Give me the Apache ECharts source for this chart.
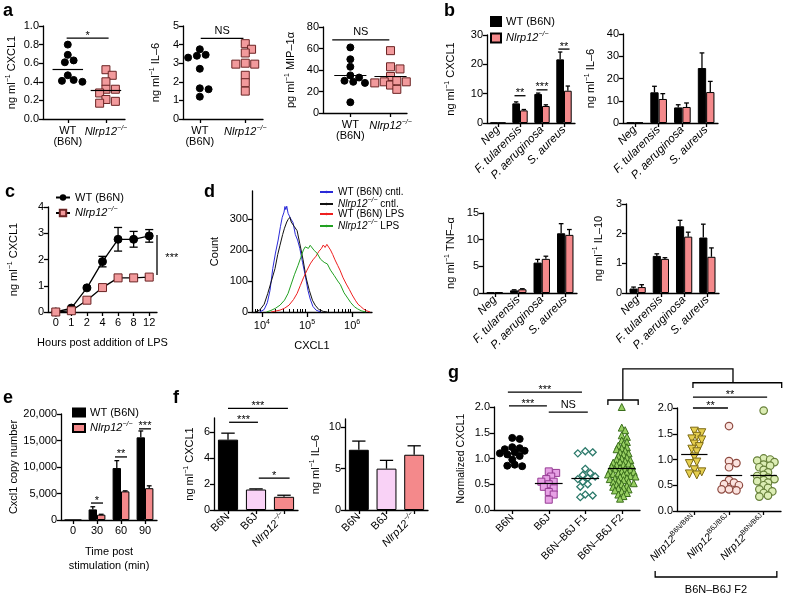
<!DOCTYPE html>
<html><head><meta charset="utf-8">
<script src="https://cdn.jsdelivr.net/npm/echarts@6.0.0/dist/echarts.min.js"></script>
<style>html,body{margin:0;padding:0;background:#fff}#chart{width:788px;height:596px}</style>
</head><body><div id="chart"></div>
<script>
/* ================= DATA ================= */
// Panel a (dot plots)
const aCXCL1_WT = [0.80, 0.69, 0.63, 0.61, 0.47, 0.41, 0.40, 0.42];
const aCXCL1_KO = [0.53, 0.47, 0.40, 0.32, 0.32, 0.28, 0.21, 0.19, 0.17];
const aCXCL1_lines = [0.53, 0.31];
const aIL6_WT = [3.75, 3.45, 3.30, 3.40, 2.70, 1.65, 1.60, 1.20];
const aIL6_KO = [4.05, 3.75, 3.55, 3.00, 2.95, 2.90, 2.95, 2.35, 1.95, 1.50];
const aIL6_lines = [2.58, 2.80];
const aMIP_WT = [61, 50, 43, 35, 33, 29, 30, 28, 10];
const aMIP_KO = [58, 43, 41, 34, 29, 28, 29, 26, 22, 30];
const aMIP_lines = [35, 34];

// Panel b (bars, WT vs KO)
const bCats = ['Neg', 'F. tularensis', 'P. aeruginosa', 'S. aureus'];
const bCXCL1_WT = [0.1, 6.7, 9.9, 21.7], bCXCL1_WTerr = [0, 0.5, 0.3, 2.5];
const bCXCL1_KO = [0.1, 4.3, 5.8, 11.0], bCXCL1_KOerr = [0, 0.3, 0.4, 1.6];
const bIL6_WT = [0.2, 13.8, 7.0, 24.7], bIL6_WTerr = [0, 2.7, 1.2, 6.8];
const bIL6_KO = [0.2, 10.8, 7.2, 13.9], bIL6_KOerr = [0, 2.4, 1.8, 4.8];
const bTNF_WT = [0.1, 0.5, 5.7, 11.2], bTNF_WTerr = [0, 0.1, 0.6, 1.8];
const bTNF_KO = [0.15, 0.7, 6.4, 10.9], bTNF_KOerr = [0, 0.1, 0.5, 1.0];
const bIL10_WT = [0.15, 1.25, 2.25, 1.87], bIL10_WTerr = [0.05, 0.07, 0.2, 0.45];
const bIL10_KO = [0.2, 1.15, 1.9, 1.22], bIL10_KOerr = [0.08, 0.04, 0.15, 0.3];

// Panel c (time course)
const cHours = ['0', '1', '2', '4', '6', '8', '12'];
const cWT = [0, 0.15, 0.92, 1.92, 2.77, 2.77, 2.90];
const cWTerr = [0, 0.03, 0.05, 0.20, 0.45, 0.30, 0.24];
const cKO = [0, 0.05, 0.45, 0.93, 1.30, 1.30, 1.33];
const cKOerr = [0, 0, 0.03, 0.05, 0.05, 0.04, 0.05];

// Panel d (flow histograms: [log10 CXCL1, count])
const dWTcntl = [[3.95,0],[4.05,8],[4.12,30],[4.18,70],[4.24,140],[4.3,190],[4.36,232],[4.41,275],[4.45,305],[4.49,322],[4.51,340],[4.53,330],[4.55,341],[4.58,318],[4.61,312],[4.64,300],[4.69,288],[4.74,250],[4.79,232],[4.84,205],[4.9,160],[4.96,118],[5.02,70],[5.07,42],[5.13,18],[5.2,6],[5.3,0]];
const dKOcntl = [[3.85,0],[3.95,6],[4.05,25],[4.13,60],[4.21,100],[4.29,140],[4.35,185],[4.4,215],[4.46,250],[4.5,270],[4.55,290],[4.58,298],[4.62,305],[4.65,290],[4.68,296],[4.72,275],[4.78,262],[4.84,220],[4.91,170],[4.98,110],[5.05,70],[5.12,38],[5.18,22],[5.26,8],[5.36,2],[5.45,0]];
const dWTlps = [[4.2,0],[4.3,3],[4.4,6],[4.5,12],[4.6,22],[4.7,40],[4.78,60],[4.85,85],[4.92,110],[5.0,135],[5.07,155],[5.13,168],[5.2,180],[5.26,195],[5.32,205],[5.36,216],[5.4,208],[5.44,218],[5.48,212],[5.52,200],[5.57,185],[5.62,168],[5.68,150],[5.73,135],[5.8,110],[5.87,90],[5.94,72],[6.0,55],[6.07,38],[6.13,25],[6.18,19],[6.25,10],[6.32,4],[6.4,0]];
const dKOlps = [[4.1,0],[4.2,5],[4.3,12],[4.4,22],[4.5,38],[4.58,60],[4.65,90],[4.72,120],[4.8,150],[4.86,175],[4.92,200],[4.96,210],[5.0,216],[5.03,205],[5.07,215],[5.11,212],[5.16,198],[5.22,190],[5.3,170],[5.38,160],[5.45,155],[5.52,135],[5.6,118],[5.68,100],[5.74,88],[5.82,62],[5.9,45],[5.97,30],[6.05,17],[6.12,10],[6.2,4],[6.3,0]];

// Panel e
const eTimes = ['0', '30', '60', '90'];
const eWT = [0, 2000, 9800, 15600], eWTerr = [0, 500, 1400, 1200];
const eKO = [0, 1000, 5400, 6000], eKOerr = [0, 80, 100, 450];

// Panel f
const fCats = ['B6N', 'B6J', 'Nlrp12'];
const fCXCL1 = [5.43, 1.58, 1.02], fCXCL1err = [0.5, 0.05, 0.12];
const fIL6 = [7.28, 5.0, 6.68], fIL6err = [1.05, 1.0, 1.08];

// Panel g
const gCats1 = ['B6N', 'B6J', 'B6N–B6J F1', 'B6N–B6J F2'];
const gB6N = [1.40, 1.38, 1.22, 1.18, 1.20, 1.15, 1.12, 1.10, 1.08, 1.05, 0.98, 0.88, 0.85, 0.86];
const gB6J = [0.75, 0.72, 0.65, 0.60, 0.55, 0.55, 0.50, 0.45, 0.42, 0.35, 0.30, 0.20];
const gF1 = [1.12, 1.10, 1.14, 0.80, 0.72, 0.68, 0.65, 0.62, 0.60, 0.55, 0.50, 0.45, 0.30, 0.28, 0.25];
const gF2 = [2.0,1.6,1.55,1.45,1.42,1.35,1.32,1.28,1.25,1.22,1.2,1.18,1.15,1.12,1.1,1.08,1.05,1.02,1.0,0.98,0.97,0.95,0.93,0.92,0.9,0.88,0.87,0.85,0.84,0.82,0.8,0.79,0.78,0.76,0.75,0.74,0.72,0.71,0.7,0.69,0.68,0.66,0.65,0.64,0.62,0.61,0.6,0.58,0.57,0.55,0.54,0.52,0.5,0.49,0.47,0.45,0.43,0.42,0.4,0.38,0.36,0.33,0.3,0.27,0.22];
const g1Lines = [1.10, 0.52, 0.62, 0.82];
const gCats2 = ['B6N/B6N', 'B6J/B6J', 'B6N/B6J'];
const gNN = [1.55, 1.52, 1.45, 1.40, 1.38, 1.30, 1.25, 1.20, 1.15, 1.05, 0.95, 0.92, 0.80, 0.76, 0.72, 0.70];
const gJJ = [1.65, 0.97, 0.93, 0.85, 0.60, 0.55, 0.52, 0.50, 0.42, 0.42, 0.40];
const gNJ = [1.95, 1.02, 1.0, 0.98, 0.95, 0.9, 0.88, 0.85, 0.8, 0.75, 0.7, 0.68, 0.65, 0.62, 0.6, 0.58, 0.55, 0.5, 0.45, 0.42, 0.38, 0.35, 0.3, 0.28];
const g2Lines = [1.10, 0.70, 0.70];

/* ================= STYLE / HELPERS ================= */
const FF = '"Liberation Sans", Arial, Helvetica, sans-serif';
const PINK = '#f4898b', PINKB = '#f29a9c';
function rich(fs) {
  const s = Math.round(fs * 0.68);
  return {
    it: { fontStyle: 'italic', fontSize: fs, fontFamily: FF, color: '#000' },
    sup: { fontSize: s, fontFamily: FF, color: '#000', padding: [0, 0, 7, 0] },
    supi: { fontSize: s, fontStyle: 'italic', fontFamily: FF, color: '#000', padding: [0, 0, 7, 0] }
  };
}
const KO = '{it|Nlrp12}{supi|−/−}';
const grids = [], xAx = [], yAx = [], ser = [];
function G(l, t, w, h) { grids.push({ left: l, top: t, width: w, height: h, containLabel: false, outerBoundsMode: 'none' }); return grids.length - 1; }
const LS = { color: '#000', width: 1.3 };
function axLine() { return { show: true, onZero: false, lineStyle: { ...LS } }; }
function Y(gi, max, o) {
  const a = { type: 'value', gridIndex: gi, min: 0, max, axisLine: axLine(),
    axisTick: { show: true, length: 4, lineStyle: { ...LS } },
    axisLabel: { color: '#000', fontSize: 11, fontFamily: FF, margin: 4, formatter: o.fmt },
    splitLine: { show: false } };
  if (o.interval) a.interval = o.interval;
  if (o.ticks) { a.axisLabel.customValues = o.ticks; a.axisTick.customValues = o.ticks; }
  if (o.name) {
    a.name = o.name; a.nameLocation = 'middle'; a.nameGap = o.gap; a.nameRotate = 90;
    a.nameTextStyle = { color: '#000', fontSize: o.nfs || 11, fontFamily: FF, rich: rich(o.nfs || 11) };
  }
  yAx.push(a); return yAx.length - 1;
}
function XC(gi, cats, o) {
  const fs = o.fs || 11;
  const a = { type: 'category', gridIndex: gi, data: cats, axisLine: axLine(),
    axisTick: { show: true, alignWithLabel: true, length: 4, lineStyle: { ...LS } },
    axisLabel: { interval: 0, rotate: o.rotate || 0, color: '#000', fontSize: fs, fontFamily: FF, margin: o.margin || 5,
      fontStyle: o.italic ? 'italic' : 'normal', formatter: o.fmt, rich: rich(fs) },
    splitLine: { show: false } };
  if (o.name) { a.name = o.name; a.nameLocation = 'middle'; a.nameGap = o.gap;
    a.nameTextStyle = { color: '#000', fontSize: 11, fontFamily: FF, lineHeight: 14 }; }
  xAx.push(a); return xAx.length - 1;
}
function XH(gi, n) { xAx.push({ type: 'value', gridIndex: gi, min: -0.5, max: n - 0.5, show: false }); return xAx.length - 1; }
function XV(gi, min, max, o) {
  const fs = o.fs || 11;
  xAx.push({ type: 'value', gridIndex: gi, min, max, axisLine: axLine(),
    axisTick: { show: true, length: 4, lineStyle: { ...LS }, customValues: o.ticks },
    axisLabel: { customValues: o.ticks, color: '#000', fontSize: fs, fontFamily: FF, margin: o.margin || 5,
      rotate: o.rotate || 0, lineHeight: o.lh || undefined, formatter: o.fmt, rich: rich(fs) },
    splitLine: { show: false } });
  return xAx.length - 1;
}
function swarm(vals, center, pxX, pxY, d) {
  const order = vals.map((v, i) => i).sort((a, b) => vals[b] - vals[a]);
  const placed = [], out = [];
  order.forEach(i => {
    const y = vals[i] * pxY;
    let off = 0;
    for (let k = 0; k < 300; k++) {
      const o = k === 0 ? 0 : (k % 2 ? 1 : -1) * Math.ceil(k / 2) * d * 0.45;
      if (placed.every(p => Math.hypot(p[0] - o, p[1] - y) >= d)) { off = o; break; }
    }
    placed.push([off, y]);
    out[i] = [center + off / pxX, vals[i]];
  });
  return out;
}
function dots(xi, yi, vals, center, pxX, pxY, sty, line, lw) {
  ser.push({ type: 'scatter', xAxisIndex: xi, yAxisIndex: yi, z: 3,
    data: swarm(vals, center, pxX, pxY, sty.sep || sty.size),
    symbol: sty.symbol, symbolSize: sty.size, symbolRotate: sty.rot || 0,
    itemStyle: { color: sty.fill, borderColor: sty.border, borderWidth: sty.bw || 1, opacity: 1 },
    markLine: { silent: true, symbol: 'none', label: { show: false }, animation: false,
      lineStyle: { color: '#000', width: 1.2, type: 'solid' },
      data: [[{ coord: [center - lw, line] }, { coord: [center + lw, line] }]] } });
}
function errS(xi, yi, vals, errs, off, cap, both) {
  ser.push({ type: 'custom', xAxisIndex: xi, yAxisIndex: yi, silent: true, z: both ? 1 : 5,
    data: vals.map((v, i) => [i, v, errs[i]]), encode: { x: 0, y: 1 },
    renderItem: (p, api) => {
      const i = api.value(0), v = api.value(1), e = api.value(2);
      if (!e) return null;
      const band = api.size([1, 0])[0];
      const c0 = api.coord([i, v]);
      const top = api.coord([i, v + e])[1];
      const bot = both ? api.coord([i, v - e])[1] : c0[1];
      const x = c0[0] + off * band, hw = cap * band;
      const st = { stroke: '#000', lineWidth: 1.3 };
      const ch = [{ type: 'line', shape: { x1: x, y1: bot, x2: x, y2: top }, style: st },
                  { type: 'line', shape: { x1: x - hw, y1: top, x2: x + hw, y2: top }, style: st }];
      if (both) ch.push({ type: 'line', shape: { x1: x - hw, y1: bot, x2: x + hw, y2: bot }, style: st });
      return { type: 'group', children: ch };
    } });
}
function ANN(xi, yi, items) {
  ser.push({ type: 'custom', xAxisIndex: xi, yAxisIndex: yi, silent: true, z: 10, clip: false,
    data: items.map(d => [d.x1, d.x2, d.y, d.y2 != null ? d.y2 : d.y]), encode: { x: [0, 1], y: [2, 3] },
    renderItem: (p, api) => {
      const d = items[p.dataIndex];
      const a = api.coord([api.value(0), api.value(2)]), b = api.coord([api.value(1), api.value(3)]);
      const ch = [{ type: 'line', shape: { x1: a[0], y1: a[1], x2: b[0], y2: b[1] }, style: { stroke: '#000', lineWidth: 1.3 } }];
      if (d.t) {
        let tx, ty, va = 'bottom';
        if (d.tx != null) { const q = api.coord([d.tx, d.ty]); tx = q[0]; ty = q[1]; va = 'middle'; }
        else { tx = (a[0] + b[0]) / 2; ty = d.t === 'NS' ? a[1] - 2 : a[1] + 3; }
        ch.push({ type: 'text', x: tx, y: ty, style: { text: d.t, fontSize: d.fs || 11, fontFamily: FF, fill: '#000', align: 'center', verticalAlign: va } });
      }
      return { type: 'group', children: ch };
    } });
}
function bars(xi, yi, name, vals, color, gap) {
  ser.push({ type: 'bar', name, xAxisIndex: xi, yAxisIndex: yi, data: vals, barGap: '0%', barCategoryGap: gap,
    itemStyle: { color, borderColor: '#000', borderWidth: 1 }, z: 2 });
}
const dec1 = v => v.toFixed(1);
const comma = v => v === 0 ? '0' : (v / 1000) + ',000';
const aFmt = v => Math.round(v) === 0 ? 'WT\n(B6N)' : KO;

/* ================= PANEL a ================= */
{
  let g = G(43, 26, 82, 93), x = XV(g, -0.65, 1.5, { ticks: [0, 1], fmt: aFmt, margin: 6 });
  let y = Y(g, 1.0, { interval: 0.2, fmt: dec1, name: 'ng ml{sup|−1} CXCL1', gap: 24 });
  let px = 82 / 2.15, py = 93 / 1.0;
  dots(x, y, aCXCL1_WT, 0, px, py, { symbol: 'circle', size: 7, sep: 6.5, fill: '#000', border: '#000' }, aCXCL1_lines[0], 0.4);
  dots(x, y, aCXCL1_KO, 1, px, py, { symbol: 'rect', size: 8, sep: 7, fill: PINKB, border: '#6b2424' }, aCXCL1_lines[1], 0.4);
  ANN(x, y, [{ x1: -0.03, x2: 1.07, y: 0.87, t: '*' }]);

  g = G(183, 26, 80, 93); x = XV(g, -0.37, 1.39, { ticks: [0, 1], fmt: aFmt, margin: 6 });
  y = Y(g, 5, { interval: 1, name: 'ng ml{sup|−1} IL–6', gap: 20 });
  px = 80 / 1.76; py = 93 / 5;
  dots(x, y, aIL6_WT, 0, px, py, { symbol: 'circle', size: 7, sep: 6.5, fill: '#000', border: '#000' }, aIL6_lines[0], 0.4);
  dots(x, y, aIL6_KO, 1, px, py, { symbol: 'rect', size: 8, sep: 7, fill: PINKB, border: '#6b2424' }, aIL6_lines[1], 0.4);
  ANN(x, y, [{ x1: 0.02, x2: 0.96, y: 4.34, t: 'NS' }]);

  g = G(323, 27, 84, 86); x = XV(g, -0.68, 1.41, { ticks: [0, 1], fmt: aFmt, margin: 6 });
  y = Y(g, 80, { interval: 20, name: 'pg ml{sup|−1} MIP–1α', gap: 25 });
  px = 84 / 2.09; py = 86 / 80;
  dots(x, y, aMIP_WT, 0, px, py, { symbol: 'circle', size: 7, sep: 6.5, fill: '#000', border: '#000' }, aMIP_lines[0], 0.4);
  dots(x, y, aMIP_KO, 1, px, py, { symbol: 'rect', size: 8, sep: 7, fill: PINKB, border: '#6b2424' }, aMIP_lines[1], 0.4);
  ANN(x, y, [{ x1: -0.45, x2: 0.97, y: 68, t: 'NS' }]);
}

/* ================= PANEL b ================= */
function bPanel(l, t, w, h, max, interval, name, gap, wt, wte, ko, koe, ann) {
  const g = G(l, t, w, h);
  const x = XC(g, bCats, { rotate: 45, fs: 11.5, italic: true, margin: 5 });
  const xh = XH(g, 4);
  const y = Y(g, max, { interval, name, gap });
  bars(x, y, 'bWT', wt, '#000', '30%');
  bars(x, y, 'bKO', ko, PINK, '30%');
  errS(x, y, wt, wte, -0.175, 0.1, false);
  errS(x, y, ko, koe, 0.175, 0.1, false);
  if (ann) ANN(xh, y, ann);
}
bPanel(487, 35, 88, 88, 30, 10, 'ng ml{sup|−1} CXCL1', 29, bCXCL1_WT, bCXCL1_WTerr, bCXCL1_KO, bCXCL1_KOerr,
  [{ x1: 0.75, x2: 1.25, y: 9.3, t: '**' }, { x1: 1.75, x2: 2.25, y: 11.3, t: '***' }, { x1: 2.75, x2: 3.25, y: 25.2, t: '**' }]);
bPanel(623, 34, 95, 89, 40, 10, 'ng ml{sup|−1} IL–6', 25, bIL6_WT, bIL6_WTerr, bIL6_KO, bIL6_KOerr, null);
bPanel(483, 213, 94, 80, 15, 5, 'ng ml{sup|−1} TNF–α', 25, bTNF_WT, bTNF_WTerr, bTNF_KO, bTNF_KOerr, null);
bPanel(626, 204, 93, 89, 3, 1, 'ng ml{sup|−1} IL–10', 20, bIL10_WT, bIL10_WTerr, bIL10_KO, bIL10_KOerr, null);

/* ================= PANEL c ================= */
{
  const g = G(48, 207, 109, 105);
  const x = XC(g, cHours, { fs: 11, name: 'Hours post addition of LPS', gap: 24 });
  const xh = XH(g, 7);
  const y = Y(g, 4, { interval: 1, name: 'ng ml{sup|−1} CXCL1', gap: 27 });
  ser.push({ type: 'line', name: 'cWT', xAxisIndex: x, yAxisIndex: y, data: cWT, symbol: 'circle', symbolSize: 8, z: 3,
    lineStyle: { color: '#000', width: 1.3 }, itemStyle: { color: '#000', borderColor: '#000' } });
  ser.push({ type: 'line', name: 'cKO', xAxisIndex: x, yAxisIndex: y, data: cKO, symbol: 'rect', symbolSize: 8, z: 3,
    lineStyle: { color: '#000', width: 1.3 }, itemStyle: { color: PINKB, borderColor: '#6b2424', borderWidth: 1 } });
  errS(x, y, cWT, cWTerr, 0, 0.26, true);
  errS(x, y, cKO, cKOerr, 0, 0.26, true);
  ANN(xh, y, [{ x1: 6.5, x2: 6.5, y: 2.93, y2: 1.41, t: '***', tx: 7.45, ty: 2.05 }]);
}

/* ================= PANEL d ================= */
{
  const g = G(252, 191, 120, 121);
  const xmin = 3.78, xmax = 6.44;
  xAx.push({ type: 'value', gridIndex: g, min: xmin, max: xmax, axisLine: axLine(),
    axisTick: { show: true, length: 5, lineStyle: { ...LS }, customValues: [4, 5, 6] },
    axisLabel: { customValues: [4, 5, 6], color: '#000', fontSize: 11, fontFamily: FF, margin: 7,
      formatter: v => '10{sup|' + Math.round(v) + '}', rich: rich(11) },
    splitLine: { show: false }, name: 'CXCL1', nameLocation: 'middle', nameGap: 28,
    nameTextStyle: { color: '#000', fontSize: 11, fontFamily: FF } });
  const xd = xAx.length - 1;
  const minors = [];
  for (let n = 3; n <= 6; n++) for (let k = 2; k <= 9; k++) { const v = n + Math.log10(k); if (v > xmin && v < xmax) minors.push(v); }
  xAx.push({ type: 'value', gridIndex: g, min: xmin, max: xmax, axisLine: { show: false },
    axisTick: { show: true, length: 3, lineStyle: { color: '#000', width: 1 }, customValues: minors },
    axisLabel: { show: false }, splitLine: { show: false } });
  const y = Y(g, 390, { ticks: [0, 100, 200, 300], name: 'Count', gap: 32 });
  const cur = [['d1', dWTcntl, '#2a2ad8'], ['d2', dKOcntl, '#111111'], ['d3', dWTlps, '#ee2020'], ['d4', dKOlps, '#22a022']];
  cur.forEach(([n, d, c]) => ser.push({ type: 'line', name: n, xAxisIndex: xd, yAxisIndex: y, data: d, symbol: 'none',
    showSymbol: false, lineStyle: { color: c, width: 1 }, itemStyle: { color: c }, z: 2 }));
}

/* ================= PANEL e ================= */
{
  const g = G(61, 414, 96, 106);
  const x = XC(g, eTimes, { fs: 11, name: 'Time post\nstimulation (min)', gap: 25 });
  const xh = XH(g, 4);
  const y = Y(g, 20000, { interval: 5000, fmt: comma, name: 'Cxcl1 copy number', gap: 42 });
  bars(x, y, 'eWT', eWT, '#000', '30%');
  bars(x, y, 'eKO', eKO, PINK, '30%');
  errS(x, y, eWT, eWTerr, -0.175, 0.1, false);
  errS(x, y, eKO, eKOerr, 0.175, 0.1, false);
  ANN(xh, y, [{ x1: 0.75, x2: 1.25, y: 3200, t: '*' }, { x1: 1.75, x2: 2.25, y: 11900, t: '**' }, { x1: 2.75, x2: 3.25, y: 17200, t: '***' }]);
}

/* ================= PANEL f ================= */
{
  const fFmt = v => v === 'Nlrp12' ? KO : v;
  const fColors = ['#000', '#f9d2f6', PINK];
  let g = G(214, 418, 84, 92);
  let x = XC(g, fCats, { rotate: 45, fs: 11, fmt: fFmt });
  let xh = XH(g, 3);
  let y = Y(g, 7.1, { ticks: [0, 2, 4, 6], name: 'ng ml{sup|−1} CXCL1', gap: 17 });
  ser.push({ type: 'bar', name: 'f1', xAxisIndex: x, yAxisIndex: y, barCategoryGap: '28%',
    data: fCXCL1.map((v, i) => ({ value: v, itemStyle: { color: fColors[i], borderColor: '#000', borderWidth: 1 } })) });
  errS(x, y, fCXCL1, fCXCL1err, 0, 0.24, false);
  ANN(xh, y, [{ x1: 0, x2: 2.14, y: 7.85, t: '***' }, { x1: 0.04, x2: 1.07, y: 6.77, t: '***' }, { x1: 1.1, x2: 2.2, y: 2.46, t: '*' }]);

  g = G(345, 419, 83, 91);
  x = XC(g, fCats, { rotate: 45, fs: 11, fmt: fFmt });
  y = Y(g, 11, { ticks: [0, 5, 10], name: 'ng ml{sup|−1} IL–6', gap: 22 });
  ser.push({ type: 'bar', name: 'f2', xAxisIndex: x, yAxisIndex: y, barCategoryGap: '28%',
    data: fIL6.map((v, i) => ({ value: v, itemStyle: { color: fColors[i], borderColor: '#000', borderWidth: 1 } })) });
  errS(x, y, fIL6, fIL6err, 0, 0.24, false);
}

/* ================= PANEL g ================= */
let G1X, G1Y, G2X, G2Y;
{
  let g = G(494, 407, 146, 103);
  let x = XV(g, -0.5, 3.5, { ticks: [0, 1, 2, 3], fs: 10.5, rotate: 45, margin: 6, fmt: v => gCats1[Math.round(v)] });
  let y = Y(g, 2, { interval: 0.5, fmt: dec1, name: 'Normalized CXCL1', gap: 27, nfs: 10.5 });
  G1X = x; G1Y = y;
  let px = 146 / 4, py = 103 / 2;
  dots(x, y, gB6N, 0, px, py, { symbol: 'circle', size: 7, sep: 5.5, fill: '#000', border: '#000' }, g1Lines[0], 0.38);
  dots(x, y, gB6J, 1, px, py, { symbol: 'rect', size: 7, sep: 5.5, fill: '#e7a1e5', border: '#963c94' }, g1Lines[1], 0.38);
  dots(x, y, gF1, 2, px, py, { symbol: 'diamond', size: 7, sep: 5.5, fill: '#ffffff', border: '#2c7a6b', bw: 1.3 }, g1Lines[2], 0.38);
  dots(x, y, gF2, 3, px, py, { symbol: 'triangle', size: 7, sep: 3.8, fill: '#97cf62', border: '#3a6e1c' }, g1Lines[3], 0.38);
  ANN(x, y, [{ x1: -0.12, x2: 1.91, y: 2.29, t: '***' }, { x1: -0.09, x2: 0.95, y: 2.02, t: '***' }, { x1: 1.0, x2: 2.07, y: 1.9, t: 'NS' }]);

  g = G(677, 408, 104, 103);
  x = XV(g, -0.5, 2.5, { ticks: [0, 1, 2], fs: 10.5, rotate: 45, margin: 6,
    fmt: v => '{it|Nlrp12}{sup|' + gCats2[Math.round(v)] + '}' });
  y = Y(g, 2, { interval: 0.5, fmt: dec1 });
  G2X = x; G2Y = y;
  px = 104 / 3;
  dots(x, y, gNN, 0, px, py, { symbol: 'triangle', rot: 180, size: 8, sep: 5.5, fill: '#e6cf4f', border: '#7d6a14' }, g2Lines[0], 0.38);
  dots(x, y, gJJ, 1, px, py, { symbol: 'circle', size: 7.5, sep: 5.5, fill: '#fbe3df', border: '#8e4a40', bw: 1.2 }, g2Lines[1], 0.38);
  dots(x, y, gNJ, 2, px, py, { symbol: 'circle', size: 7.5, sep: 4.8, fill: '#dcedb4', border: '#67803a', bw: 1.2 }, g2Lines[2], 0.38);
  ANN(x, y, [{ x1: -0.04, x2: 2.1, y: 2.21, t: '**' }, { x1: -0.04, x2: 0.97, y: 2.0, t: '**' }]);
}

/* ================= LEGENDS ================= */
const LN = { bWT: 'WT (B6N)', bKO: KO, eWT: 'WT (B6N)', eKO: KO, cWT: 'WT (B6N)', cKO: KO,
  d1: 'WT (B6N) cntl.', d2: KO + ' cntl.', d3: 'WT (B6N) LPS', d4: KO + ' LPS' };
function leg(o, names, fs, extra) {
  return Object.assign({ orient: 'vertical', padding: 0, selectedMode: false, data: names, formatter: n => LN[n],
    textStyle: { color: '#000', fontSize: fs, fontFamily: FF, rich: rich(fs) } }, o, extra || {});
}
const legends = [
  leg({ left: 490, top: 16, itemWidth: 10, itemHeight: 9, itemGap: 4, icon: 'rect' }, ['bWT', 'bKO'], 11),
  leg({ left: 72, top: 407, itemWidth: 12, itemHeight: 8, itemGap: 3, icon: 'rect' }, ['eWT', 'eKO'], 11),
  leg({ left: 55, top: 192, itemWidth: 14, itemHeight: 8, itemGap: 3 }, ['cWT', 'cKO'], 11),
  leg({ left: 319, top: 187, itemWidth: 13, itemHeight: 3, itemGap: 0 }, ['d1', 'd2', 'd3', 'd4'], 10)
];

/* ================= RENDER ================= */
const chart = echarts.init(document.getElementById('chart'), null, { renderer: 'canvas', width: 788, height: 596 });
const letter = (t, l, tp) => ({ type: 'text', left: l, top: tp, style: { text: t, fontSize: 18, fontWeight: 'bold', fontFamily: FF, fill: '#000' } });
chart.setOption({
  animation: false,
  textStyle: { fontFamily: FF },
  grid: grids, xAxis: xAx, yAxis: yAx, series: ser, legend: legends
});
// brackets in panel g, placed via the axes' own coordinate conversion
const P1 = (x, y) => chart.convertToPixel({ xAxisIndex: G1X, yAxisIndex: G1Y }, [x, y]);
const P2 = (x, y) => chart.convertToPixel({ xAxisIndex: G2X, yAxisIndex: G2Y }, [x, y]);
const a1 = P1(2.62, 2.04), a2 = P1(2.62, 2.136), a3 = P1(3.45, 2.136), a4 = P1(3.45, 2.04);
const m1 = P1(3.03, 2.136), topY = P1(3.03, 2.74)[1];
const b1 = P2(-0.04, 2.39), b2 = P2(-0.04, 2.49), b3 = P2(2.52, 2.49), b4 = P2(2.52, 2.39), m2 = P2(1.115, 2.49);
const bl = P2(-1.13, 0)[0], br = P2(2.38, 0)[0];
const LST = { stroke: '#000', lineWidth: 1.3, fill: null };
chart.setOption({
  graphic: [letter('a', 3, 2), letter('b', 444, 2), letter('c', 5, 183), letter('d', 204, 183),
    letter('e', 3, 389), letter('f', 173, 389), letter('g', 448, 364),
    { type: 'polyline', shape: { points: [a1, a2, a3, a4] }, style: LST },
    { type: 'polyline', shape: { points: [m1, [m1[0], topY], [m2[0], topY], m2] }, style: LST },
    { type: 'polyline', shape: { points: [b1, b2, b3, b4] }, style: LST },
    { type: 'polyline', shape: { points: [[bl, 571], [bl, 577], [br, 577], [br, 571]] }, style: LST },
    { type: 'text', x: (bl + br) / 2, y: 590, style: { text: 'B6N–B6J F2', fontSize: 11, fontFamily: FF, fill: '#000', align: 'center', verticalAlign: 'middle' } }
  ]
});
</script></body></html>
